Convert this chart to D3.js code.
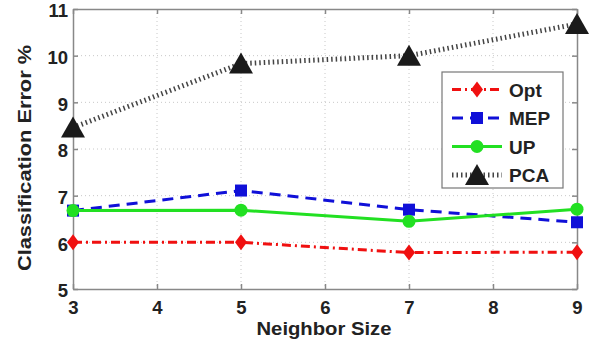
<!DOCTYPE html>
<html>
<head>
<meta charset="utf-8">
<script src="https://cdn.jsdelivr.net/npm/d3@7"></script>
<style>
  body { margin: 0; background: #fff; }
  svg { display: block; font-family: "Liberation Sans", Arial, sans-serif; font-weight: bold; }
</style>
</head>
<body>
<div class="graph"></div>
<script>
// data
const neighborSizes = [3, 5, 7, 9];
const optValues = [6.0, 6.0, 5.78, 5.79];
const mepValues = [6.68, 7.11, 6.7, 6.43];
const upValues = [6.68, 6.69, 6.45, 6.71];
const pcaValues = [8.46, 9.83, 10.0, 10.68];
const xTicks = [3, 4, 5, 6, 7, 8, 9];
const yTicks = [5, 6, 7, 8, 9, 10, 11];

const series = [
    { name: "Opt", values: optValues, color: "#f01010", dash: "9,4,2,4", width: 3, marker: "diamond" },
    { name: "MEP", values: mepValues, color: "#1010d8", dash: "11,7", width: 3, marker: "square" },
    { name: "UP", values: upValues, color: "#22e022", dash: null, width: 3, marker: "circle" },
    { name: "PCA", values: pcaValues, color: "#1a1a1a", dash: "1.5,3", width: 5, marker: "triangle", lineColor: "#444" }
];

const outerWidth = 607, outerHeight = 344;
const margin = { top: 9, right: 30, bottom: 55, left: 73 };
const width = outerWidth - margin.left - margin.right,
    height = outerHeight - margin.top - margin.bottom;

const svg = d3.select(".graph").append("svg")
    .attr("width", outerWidth)
    .attr("height", outerHeight)
    .append("g")
    .attr("transform", `translate(${margin.left},${margin.top})`);

const x = d3.scaleLinear().domain([3, 9]).range([0, width]);
const y = d3.scaleLinear().domain([5, 11]).range([height, 0]);

// dotted grid
svg.append("g").selectAll("line.gx")
    .data(xTicks.slice(1, -1)).enter().append("line")
    .attr("x1", d => x(d)).attr("x2", d => x(d))
    .attr("y1", 0).attr("y2", height)
    .attr("stroke", "#c8c8c8").attr("stroke-width", 1).attr("stroke-dasharray", "1,3");
svg.append("g").selectAll("line.gy")
    .data(yTicks.slice(1, -1)).enter().append("line")
    .attr("x1", 0).attr("x2", width)
    .attr("y1", d => y(d)).attr("y2", d => y(d))
    .attr("stroke", "#c8c8c8").attr("stroke-width", 1).attr("stroke-dasharray", "1,3");

// axes (ticks pointing inward, box on)
const axisColor = "#888";
const xAxis = svg.append("g").attr("transform", `translate(0,${height})`)
    .call(d3.axisBottom(x).tickValues(xTicks).tickFormat(d3.format("d")).tickSizeInner(-5).tickSizeOuter(0).tickPadding(12));
const yAxis = svg.append("g")
    .call(d3.axisLeft(y).tickValues(yTicks).tickFormat(d3.format("d")).tickSizeInner(-5).tickSizeOuter(0).tickPadding(5));
const xTop = svg.append("g")
    .call(d3.axisTop(x).tickValues(xTicks).tickFormat("").tickSizeInner(-5).tickSizeOuter(0));
const yRight = svg.append("g").attr("transform", `translate(${width},0)`)
    .call(d3.axisRight(y).tickValues(yTicks).tickFormat("").tickSizeInner(-5).tickSizeOuter(0));

[xAxis, yAxis, xTop, yRight].forEach(a => {
    a.selectAll("path, line").attr("stroke", axisColor).attr("stroke-width", 1.5);
    a.selectAll("text").attr("fill", "#222").style("font-size", "18.5px").style("font-weight", "bold")
        .style("font-family", "'Liberation Sans', Arial, sans-serif");
});
yAxis.selectAll("text").attr("dy", "0.42em");

svg.append("text")
    .attr("x", 324 - margin.left).attr("y", 335 - margin.top)
    .attr("text-anchor", "middle")
    .attr("fill", "#222").style("font-size", "18.5px")
    .attr("textLength", 135).attr("lengthAdjust", "spacingAndGlyphs")
    .text("Neighbor Size");

svg.append("text")
    .attr("transform", `translate(${31 - margin.left},${158 - margin.top}) rotate(-90)`)
    .attr("text-anchor", "middle")
    .attr("fill", "#222").style("font-size", "18.5px")
    .attr("textLength", 226).attr("lengthAdjust", "spacingAndGlyphs")
    .text("Classification Error %");

function drawMarker(g, s, cx, cy) {
    if (s.marker === "diamond") {
        g.append("path").attr("d", `M${cx},${cy - 8}L${cx + 6},${cy}L${cx},${cy + 8}L${cx - 6},${cy}Z`).attr("fill", s.color);
    } else if (s.marker === "square") {
        g.append("rect").attr("x", cx - 6).attr("y", cy - 6).attr("width", 12).attr("height", 12).attr("fill", s.color);
    } else if (s.marker === "circle") {
        g.append("circle").attr("cx", cx).attr("cy", cy).attr("r", 6.5).attr("fill", s.color);
    } else {
        g.append("path").attr("d", `M${cx},${cy - 11}L${cx + 12},${cy + 10}L${cx - 12},${cy + 10}Z`).attr("fill", s.color);
    }
}

const line = d3.line()
    .x((d, i) => x(neighborSizes[i]))
    .y(d => y(d));

series.forEach(s => {
    const g = svg.append("g");
    g.append("path")
        .datum(s.values)
        .attr("d", line)
        .attr("fill", "none")
        .attr("stroke", s.lineColor || s.color)
        .attr("stroke-width", s.width)
        .attr("stroke-dasharray", s.dash);
    s.values.forEach((v, i) => drawMarker(g, s, x(neighborSizes[i]), y(v)));
});

// legend
const legend = svg.append("g").attr("transform", `translate(${442 - margin.left},${72 - margin.top})`);
legend.append("rect")
    .attr("width", 121).attr("height", 116)
    .attr("fill", "#fff").attr("stroke", "#777").attr("stroke-width", 1.2);

series.forEach((s, i) => {
    const ly = 17.5 + i * 28.5;
    legend.append("line")
        .attr("x1", 10).attr("x2", 60).attr("y1", ly).attr("y2", ly)
        .attr("stroke", s.lineColor || s.color)
        .attr("stroke-width", s.width)
        .attr("stroke-dasharray", s.dash);
    drawMarker(legend, s, 35, ly);
    legend.append("text")
        .attr("x", 67).attr("y", ly + 7)
        .attr("fill", "#222").style("font-size", "19px")
        .text(s.name);
});
</script>
</body>
</html>
